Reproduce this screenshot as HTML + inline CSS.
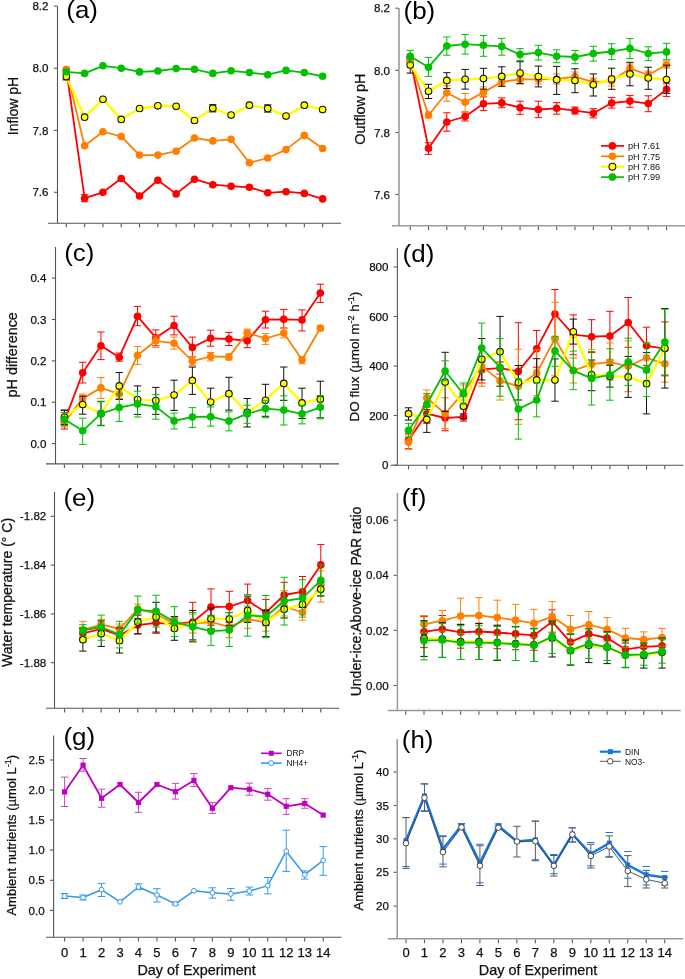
<!DOCTYPE html><html><head><meta charset="utf-8"><style>html,body{margin:0;padding:0;background:#fff;}svg{display:block;will-change:transform;}</style></head><body>
<svg width="685" height="979" viewBox="0 0 685 979" font-family='"Liberation Sans", sans-serif'>
<rect width="685" height="979" fill="#fff"/>
<g stroke="#555" stroke-width="1.1" fill="none">
<path d="M57.5 6V223.2M48 223.2H341"/>
</g>
<g stroke="#555" stroke-width="1.1" fill="none">
<path d="M53.9 6.1H56.95"/>
<path d="M53.9 68.2H56.95"/>
<path d="M53.9 130.4H56.95"/>
<path d="M53.9 192.3H56.95"/>
<path d="M66.3 223.75v3.6"/>
<path d="M84.61 223.75v3.6"/>
<path d="M102.92 223.75v3.6"/>
<path d="M121.23 223.75v3.6"/>
<path d="M139.54 223.75v3.6"/>
<path d="M157.85 223.75v3.6"/>
<path d="M176.16 223.75v3.6"/>
<path d="M194.47 223.75v3.6"/>
<path d="M212.78 223.75v3.6"/>
<path d="M231.09 223.75v3.6"/>
<path d="M249.4 223.75v3.6"/>
<path d="M267.71 223.75v3.6"/>
<path d="M286.02 223.75v3.6"/>
<path d="M304.33 223.75v3.6"/>
<path d="M322.64 223.75v3.6"/>
</g>
<g font-size="11.6" fill="#111" text-anchor="end" stroke="#111" stroke-width="0.25">
<text x="48.5" y="10.28">8.2</text>
<text x="48.5" y="72.38">8.0</text>
<text x="48.5" y="134.58">7.8</text>
<text x="48.5" y="196.48">7.6</text>
</g>
<text transform="translate(66.3,17.9) scale(1.1,1)" font-size="23.6" fill="#000">(a)</text>
<text transform="translate(18.3,106) rotate(-90)" text-anchor="middle" font-size="14" fill="#111" stroke="#111" stroke-width="0.25">Inflow pH</text>
<path d="M66.3 69.5 L84.61 198.2 L102.92 192.3 L121.23 178.5 L139.54 196 L157.85 180.3 L176.16 193.9 L194.47 179.2 L212.78 184.7 L231.09 186.2 L249.4 187.3 L267.71 192.8 L286.02 191.7 L304.33 193.4 L322.64 198.9" fill="none" stroke="#FF0000" stroke-width="1.8" stroke-linejoin="round"/>
<path d="M84.61 194.6V201.8M80.91 194.6h7.4M80.91 201.8h7.4" fill="none" stroke="#FF0000" stroke-width="1.0"/>
<g fill="#FF0000" stroke="none" stroke-width="0"><circle cx="66.3" cy="69.5" r="3.8"/><circle cx="84.61" cy="198.2" r="3.8"/><circle cx="102.92" cy="192.3" r="3.8"/><circle cx="121.23" cy="178.5" r="3.8"/><circle cx="139.54" cy="196" r="3.8"/><circle cx="157.85" cy="180.3" r="3.8"/><circle cx="176.16" cy="193.9" r="3.8"/><circle cx="194.47" cy="179.2" r="3.8"/><circle cx="212.78" cy="184.7" r="3.8"/><circle cx="231.09" cy="186.2" r="3.8"/><circle cx="249.4" cy="187.3" r="3.8"/><circle cx="267.71" cy="192.8" r="3.8"/><circle cx="286.02" cy="191.7" r="3.8"/><circle cx="304.33" cy="193.4" r="3.8"/><circle cx="322.64" cy="198.9" r="3.8"/></g>
<path d="M66.3 69.8 L84.61 145.7 L102.92 131.7 L121.23 136.5 L139.54 155.1 L157.85 155.1 L176.16 151.2 L194.47 138 L212.78 140.9 L231.09 139.3 L249.4 162.8 L267.71 158 L286.02 149.6 L304.33 135.4 L322.64 148.5" fill="none" stroke="#FF8000" stroke-width="1.8" stroke-linejoin="round"/>
<g fill="#FF8000" stroke="none" stroke-width="0"><circle cx="66.3" cy="69.8" r="3.8"/><circle cx="84.61" cy="145.7" r="3.8"/><circle cx="102.92" cy="131.7" r="3.8"/><circle cx="121.23" cy="136.5" r="3.8"/><circle cx="139.54" cy="155.1" r="3.8"/><circle cx="157.85" cy="155.1" r="3.8"/><circle cx="176.16" cy="151.2" r="3.8"/><circle cx="194.47" cy="138" r="3.8"/><circle cx="212.78" cy="140.9" r="3.8"/><circle cx="231.09" cy="139.3" r="3.8"/><circle cx="249.4" cy="162.8" r="3.8"/><circle cx="267.71" cy="158" r="3.8"/><circle cx="286.02" cy="149.6" r="3.8"/><circle cx="304.33" cy="135.4" r="3.8"/><circle cx="322.64" cy="148.5" r="3.8"/></g>
<path d="M66.3 76.6 L84.61 117.2 L102.92 99.3 L121.23 119.4 L139.54 108.5 L157.85 105.8 L176.16 106.3 L194.47 120.5 L212.78 108.2 L231.09 115.1 L249.4 105.2 L267.71 108.4 L286.02 116.1 L304.33 105.2 L322.64 109.6" fill="none" stroke="#FFFF00" stroke-width="2.4" stroke-linejoin="round"/>
<path d="M66.3 73.4V79.9M62.6 73.4h7.4M62.6 79.9h7.4M212.78 104.7V111.9M209.08 104.7h7.4M209.08 111.9h7.4M267.71 104.9V112.1M264.01 104.9h7.4M264.01 112.1h7.4" fill="none" stroke="#111" stroke-width="1.0"/>
<g fill="#FFFF00" stroke="#111" stroke-width="1.1"><circle cx="66.3" cy="76.6" r="3.3"/><circle cx="84.61" cy="117.2" r="3.3"/><circle cx="102.92" cy="99.3" r="3.3"/><circle cx="121.23" cy="119.4" r="3.3"/><circle cx="139.54" cy="108.5" r="3.3"/><circle cx="157.85" cy="105.8" r="3.3"/><circle cx="176.16" cy="106.3" r="3.3"/><circle cx="194.47" cy="120.5" r="3.3"/><circle cx="212.78" cy="108.2" r="3.3"/><circle cx="231.09" cy="115.1" r="3.3"/><circle cx="249.4" cy="105.2" r="3.3"/><circle cx="267.71" cy="108.4" r="3.3"/><circle cx="286.02" cy="116.1" r="3.3"/><circle cx="304.33" cy="105.2" r="3.3"/><circle cx="322.64" cy="109.6" r="3.3"/></g>
<path d="M66.3 71.8 L84.61 73.4 L102.92 65.8 L121.23 68.2 L139.54 71.9 L157.85 71 L176.16 68.6 L194.47 69.3 L212.78 73.4 L231.09 70.8 L249.4 72.6 L267.71 74.7 L286.02 70.4 L304.33 72.6 L322.64 76.3" fill="none" stroke="#00C000" stroke-width="1.8" stroke-linejoin="round"/>
<g fill="#00C000" stroke="none" stroke-width="0"><circle cx="66.3" cy="71.8" r="3.8"/><circle cx="84.61" cy="73.4" r="3.8"/><circle cx="102.92" cy="65.8" r="3.8"/><circle cx="121.23" cy="68.2" r="3.8"/><circle cx="139.54" cy="71.9" r="3.8"/><circle cx="157.85" cy="71" r="3.8"/><circle cx="176.16" cy="68.6" r="3.8"/><circle cx="194.47" cy="69.3" r="3.8"/><circle cx="212.78" cy="73.4" r="3.8"/><circle cx="231.09" cy="70.8" r="3.8"/><circle cx="249.4" cy="72.6" r="3.8"/><circle cx="267.71" cy="74.7" r="3.8"/><circle cx="286.02" cy="70.4" r="3.8"/><circle cx="304.33" cy="72.6" r="3.8"/><circle cx="322.64" cy="76.3" r="3.8"/></g>
<g stroke="#999" stroke-width="1.6" fill="none">
<path d="M399 8V225.7M392 225.7H685"/>
</g>
<g stroke="#555" stroke-width="1.1" fill="none">
<path d="M395.4 8.2H398.2"/>
<path d="M395.4 70.4H398.2"/>
<path d="M395.4 132.5H398.2"/>
<path d="M395.4 194.5H398.2"/>
<path d="M410.2 226.5v3.6"/>
<path d="M428.51 226.5v3.6"/>
<path d="M446.82 226.5v3.6"/>
<path d="M465.13 226.5v3.6"/>
<path d="M483.44 226.5v3.6"/>
<path d="M501.75 226.5v3.6"/>
<path d="M520.06 226.5v3.6"/>
<path d="M538.37 226.5v3.6"/>
<path d="M556.68 226.5v3.6"/>
<path d="M574.99 226.5v3.6"/>
<path d="M593.3 226.5v3.6"/>
<path d="M611.61 226.5v3.6"/>
<path d="M629.92 226.5v3.6"/>
<path d="M648.23 226.5v3.6"/>
<path d="M666.54 226.5v3.6"/>
</g>
<g font-size="11.6" fill="#111" text-anchor="end" stroke="#111" stroke-width="0.25">
<text x="390" y="12.38">8.2</text>
<text x="390" y="74.58">8.0</text>
<text x="390" y="136.68">7.8</text>
<text x="390" y="198.68">7.6</text>
</g>
<text transform="translate(403.5,18.5) scale(1.1,1)" font-size="23.6" fill="#000">(b)</text>
<text transform="translate(364.84,109.2) rotate(-90)" text-anchor="middle" font-size="14.4" fill="#111" stroke="#111" stroke-width="0.25">Outflow pH</text>
<path d="M410.2 58.5 L428.51 148.2 L446.82 122 L465.13 116.5 L483.44 103.8 L501.75 102.9 L520.06 107.7 L538.37 109.5 L556.68 108.3 L574.99 110.7 L593.3 113.2 L611.61 103 L629.92 101.1 L648.23 103.6 L666.54 89.3" fill="none" stroke="#FF0000" stroke-width="1.8" stroke-linejoin="round"/>
<path d="M410.2 55V62M406.5 55h7.4M406.5 62h7.4M428.51 142.8V154.4M424.81 142.8h7.4M424.81 154.4h7.4M446.82 112.8V131.2M443.12 112.8h7.4M443.12 131.2h7.4M465.13 112V121M461.43 112h7.4M461.43 121h7.4M483.44 96.8V110.6M479.74 96.8h7.4M479.74 110.6h7.4M501.75 97.9V107.7M498.05 97.9h7.4M498.05 107.7h7.4M520.06 101.2V114.3M516.36 101.2h7.4M516.36 114.3h7.4M538.37 101.2V117.6M534.67 101.2h7.4M534.67 117.6h7.4M556.68 102.6V114.2M552.98 102.6h7.4M552.98 114.2h7.4M574.99 107V114M571.29 107h7.4M571.29 114h7.4M593.3 108.7V117.9M589.6 108.7h7.4M589.6 117.9h7.4M611.61 97.4V108.1M607.91 97.4h7.4M607.91 108.1h7.4M629.92 95.4V107.3M626.22 95.4h7.4M626.22 107.3h7.4M648.23 95.8V111.7M644.53 95.8h7.4M644.53 111.7h7.4M666.54 83.7V96.4M662.84 83.7h7.4M662.84 96.4h7.4" fill="none" stroke="#FF0000" stroke-width="1.0"/>
<g fill="#FF0000" stroke="none" stroke-width="0"><circle cx="410.2" cy="58.5" r="3.8"/><circle cx="428.51" cy="148.2" r="3.8"/><circle cx="446.82" cy="122" r="3.8"/><circle cx="465.13" cy="116.5" r="3.8"/><circle cx="483.44" cy="103.8" r="3.8"/><circle cx="501.75" cy="102.9" r="3.8"/><circle cx="520.06" cy="107.7" r="3.8"/><circle cx="538.37" cy="109.5" r="3.8"/><circle cx="556.68" cy="108.3" r="3.8"/><circle cx="574.99" cy="110.7" r="3.8"/><circle cx="593.3" cy="113.2" r="3.8"/><circle cx="611.61" cy="103" r="3.8"/><circle cx="629.92" cy="101.1" r="3.8"/><circle cx="648.23" cy="103.6" r="3.8"/><circle cx="666.54" cy="89.3" r="3.8"/></g>
<path d="M410.2 60.7 L428.51 115 L446.82 92.8 L465.13 102.3 L483.44 92.4 L501.75 81.9 L520.06 79.3 L538.37 79.3 L556.68 79 L574.99 76.6 L593.3 82.1 L611.61 81.1 L629.92 68.4 L648.23 75 L666.54 64.7" fill="none" stroke="#FF8000" stroke-width="1.8" stroke-linejoin="round"/>
<path d="M428.51 112V118M424.81 112h7.4M424.81 118h7.4M446.82 85.8V101.2M443.12 85.8h7.4M443.12 101.2h7.4M465.13 93.5V112.1M461.43 93.5h7.4M461.43 112.1h7.4M483.44 86.9V96.8M479.74 86.9h7.4M479.74 96.8h7.4M501.75 78V86M498.05 78h7.4M498.05 86h7.4M520.06 75V84M516.36 75h7.4M516.36 84h7.4M538.37 75V84M534.67 75h7.4M534.67 84h7.4M556.68 74V84M552.98 74h7.4M552.98 84h7.4M574.99 72V81M571.29 72h7.4M571.29 81h7.4M593.3 78V86M589.6 78h7.4M589.6 86h7.4M611.61 76V86M607.91 76h7.4M607.91 86h7.4M629.92 64V73M626.22 64h7.4M626.22 73h7.4M648.23 71V79M644.53 71h7.4M644.53 79h7.4M666.54 61V68M662.84 61h7.4M662.84 68h7.4" fill="none" stroke="#FF8000" stroke-width="1.0"/>
<g fill="#FF8000" stroke="none" stroke-width="0"><circle cx="410.2" cy="60.7" r="3.8"/><circle cx="428.51" cy="115" r="3.8"/><circle cx="446.82" cy="92.8" r="3.8"/><circle cx="465.13" cy="102.3" r="3.8"/><circle cx="483.44" cy="92.4" r="3.8"/><circle cx="501.75" cy="81.9" r="3.8"/><circle cx="520.06" cy="79.3" r="3.8"/><circle cx="538.37" cy="79.3" r="3.8"/><circle cx="556.68" cy="79" r="3.8"/><circle cx="574.99" cy="76.6" r="3.8"/><circle cx="593.3" cy="82.1" r="3.8"/><circle cx="611.61" cy="81.1" r="3.8"/><circle cx="629.92" cy="68.4" r="3.8"/><circle cx="648.23" cy="75" r="3.8"/><circle cx="666.54" cy="64.7" r="3.8"/></g>
<path d="M410.2 65 L428.51 91.3 L446.82 80.4 L465.13 79.3 L483.44 78.6 L501.75 76.4 L520.06 73.1 L538.37 76.6 L556.68 79.7 L574.99 80.5 L593.3 84.8 L611.61 79 L629.92 73.9 L648.23 78 L666.54 79.5" fill="none" stroke="#FFFF00" stroke-width="2.4" stroke-linejoin="round"/>
<path d="M410.2 57.4V73.1M406.5 57.4h7.4M406.5 73.1h7.4M428.51 84.3V98.5M424.81 84.3h7.4M424.81 98.5h7.4M446.82 72.7V88.5M443.12 72.7h7.4M443.12 88.5h7.4M465.13 69.4V89.1M461.43 69.4h7.4M461.43 89.1h7.4M483.44 68.3V89.1M479.74 68.3h7.4M479.74 89.1h7.4M501.75 66.8V86.3M498.05 66.8h7.4M498.05 86.3h7.4M520.06 61.7V83.6M516.36 61.7h7.4M516.36 83.6h7.4M538.37 66.1V86.9M534.67 66.1h7.4M534.67 86.9h7.4M556.68 66.4V94.4M552.98 66.4h7.4M552.98 94.4h7.4M574.99 68.8V92.7M571.29 68.8h7.4M571.29 92.7h7.4M593.3 73.9V96M589.6 73.9h7.4M589.6 96h7.4M611.61 68.2V89.3M607.91 68.2h7.4M607.91 89.3h7.4M629.92 62.3V85.8M626.22 62.3h7.4M626.22 85.8h7.4M648.23 67.2V89.3M644.53 67.2h7.4M644.53 89.3h7.4M666.54 65.2V93.4M662.84 65.2h7.4M662.84 93.4h7.4" fill="none" stroke="#111" stroke-width="1.0"/>
<g fill="#FFFF00" stroke="#111" stroke-width="1.1"><circle cx="410.2" cy="65" r="3.3"/><circle cx="428.51" cy="91.3" r="3.3"/><circle cx="446.82" cy="80.4" r="3.3"/><circle cx="465.13" cy="79.3" r="3.3"/><circle cx="483.44" cy="78.6" r="3.3"/><circle cx="501.75" cy="76.4" r="3.3"/><circle cx="520.06" cy="73.1" r="3.3"/><circle cx="538.37" cy="76.6" r="3.3"/><circle cx="556.68" cy="79.7" r="3.3"/><circle cx="574.99" cy="80.5" r="3.3"/><circle cx="593.3" cy="84.8" r="3.3"/><circle cx="611.61" cy="79" r="3.3"/><circle cx="629.92" cy="73.9" r="3.3"/><circle cx="648.23" cy="78" r="3.3"/><circle cx="666.54" cy="79.5" r="3.3"/></g>
<path d="M410.2 56.3 L428.51 67.2 L446.82 46 L465.13 44.2 L483.44 45.3 L501.75 46.4 L520.06 54.5 L538.37 52.6 L556.68 56.2 L574.99 57 L593.3 53.5 L611.61 51.5 L629.92 48.4 L648.23 53.5 L666.54 51.9" fill="none" stroke="#00C000" stroke-width="1.8" stroke-linejoin="round"/>
<path d="M410.2 50.4V62.8M406.5 50.4h7.4M406.5 62.8h7.4M428.51 57.4V76.4M424.81 57.4h7.4M424.81 76.4h7.4M446.82 37V55.2M443.12 37h7.4M443.12 55.2h7.4M465.13 34.4V54.1M461.43 34.4h7.4M461.43 54.1h7.4M483.44 35.5V56.3M479.74 35.5h7.4M479.74 56.3h7.4M501.75 38.3V55.2M498.05 38.3h7.4M498.05 55.2h7.4M520.06 48.6V60.7M516.36 48.6h7.4M516.36 60.7h7.4M538.37 45.3V60M534.67 45.3h7.4M534.67 60h7.4M556.68 49.8V62.7M552.98 49.8h7.4M552.98 62.7h7.4M574.99 50.4V63.7M571.29 50.4h7.4M571.29 63.7h7.4M593.3 46.3V61.1M589.6 46.3h7.4M589.6 61.1h7.4M611.61 43.7V59.6M607.91 43.7h7.4M607.91 59.6h7.4M629.92 38.6V58.6M626.22 38.6h7.4M626.22 58.6h7.4M648.23 46.8V60.7M644.53 46.8h7.4M644.53 60.7h7.4M666.54 43.3V59.6M662.84 43.3h7.4M662.84 59.6h7.4" fill="none" stroke="#00C000" stroke-width="1.0"/>
<g fill="#00C000" stroke="none" stroke-width="0"><circle cx="410.2" cy="56.3" r="3.8"/><circle cx="428.51" cy="67.2" r="3.8"/><circle cx="446.82" cy="46" r="3.8"/><circle cx="465.13" cy="44.2" r="3.8"/><circle cx="483.44" cy="45.3" r="3.8"/><circle cx="501.75" cy="46.4" r="3.8"/><circle cx="520.06" cy="54.5" r="3.8"/><circle cx="538.37" cy="52.6" r="3.8"/><circle cx="556.68" cy="56.2" r="3.8"/><circle cx="574.99" cy="57" r="3.8"/><circle cx="593.3" cy="53.5" r="3.8"/><circle cx="611.61" cy="51.5" r="3.8"/><circle cx="629.92" cy="48.4" r="3.8"/><circle cx="648.23" cy="53.5" r="3.8"/><circle cx="666.54" cy="51.9" r="3.8"/></g>
<g stroke="#555" stroke-width="1.1" fill="none">
<path d="M55.5 247V463.9M46 463.9H339"/>
</g>
<g stroke="#555" stroke-width="1.1" fill="none">
<path d="M51.9 278.1H54.95"/>
<path d="M51.9 319.5H54.95"/>
<path d="M51.9 360.9H54.95"/>
<path d="M51.9 402.2H54.95"/>
<path d="M51.9 443.6H54.95"/>
<path d="M64.4 464.45v3.6"/>
<path d="M82.68 464.45v3.6"/>
<path d="M100.96 464.45v3.6"/>
<path d="M119.24 464.45v3.6"/>
<path d="M137.52 464.45v3.6"/>
<path d="M155.8 464.45v3.6"/>
<path d="M174.08 464.45v3.6"/>
<path d="M192.36 464.45v3.6"/>
<path d="M210.64 464.45v3.6"/>
<path d="M228.92 464.45v3.6"/>
<path d="M247.2 464.45v3.6"/>
<path d="M265.48 464.45v3.6"/>
<path d="M283.76 464.45v3.6"/>
<path d="M302.04 464.45v3.6"/>
<path d="M320.32 464.45v3.6"/>
</g>
<g font-size="11.6" fill="#111" text-anchor="end" stroke="#111" stroke-width="0.25">
<text x="46.5" y="282.28">0.4</text>
<text x="46.5" y="323.68">0.3</text>
<text x="46.5" y="365.08">0.2</text>
<text x="46.5" y="406.38">0.1</text>
<text x="46.5" y="447.78">0.0</text>
</g>
<text transform="translate(64.2,261.4) scale(1.1,1)" font-size="23.6" fill="#000">(c)</text>
<text transform="translate(16.94,354.8) rotate(-90)" text-anchor="middle" font-size="14.4" fill="#111" stroke="#111" stroke-width="0.25">pH difference</text>
<path d="M64.4 421.4 L82.68 372.8 L100.96 345.8 L119.24 357.2 L137.52 316.3 L155.8 337.7 L174.08 325.5 L192.36 347.4 L210.64 338.3 L228.92 339 L247.2 340.7 L265.48 319.7 L283.76 319.3 L302.04 319.9 L320.32 293" fill="none" stroke="#FF0000" stroke-width="1.8" stroke-linejoin="round"/>
<path d="M64.4 410.4V429M60.7 410.4h7.4M60.7 429h7.4M82.68 362.3V383M78.98 362.3h7.4M78.98 383h7.4M100.96 332V359.6M97.26 332h7.4M97.26 359.6h7.4M119.24 353V361.2M115.54 353h7.4M115.54 361.2h7.4M137.52 306.4V325.7M133.82 306.4h7.4M133.82 325.7h7.4M155.8 329.9V345.8M152.1 329.9h7.4M152.1 345.8h7.4M174.08 316.3V334.9M170.38 316.3h7.4M170.38 334.9h7.4M192.36 337.1V356.8M188.66 337.1h7.4M188.66 356.8h7.4M210.64 330.2V346.2M206.94 330.2h7.4M206.94 346.2h7.4M228.92 332.4V345.5M225.22 332.4h7.4M225.22 345.5h7.4M247.2 333.5V347.7M243.5 333.5h7.4M243.5 347.7h7.4M265.48 311.2V328M261.78 311.2h7.4M261.78 328h7.4M283.76 309.4V328M280.06 309.4h7.4M280.06 328h7.4M302.04 309.9V330.9M298.34 309.9h7.4M298.34 330.9h7.4M320.32 284.2V302.4M316.62 284.2h7.4M316.62 302.4h7.4" fill="none" stroke="#FF0000" stroke-width="1.0"/>
<g fill="#FF0000" stroke="none" stroke-width="0"><circle cx="64.4" cy="421.4" r="3.8"/><circle cx="82.68" cy="372.8" r="3.8"/><circle cx="100.96" cy="345.8" r="3.8"/><circle cx="119.24" cy="357.2" r="3.8"/><circle cx="137.52" cy="316.3" r="3.8"/><circle cx="155.8" cy="337.7" r="3.8"/><circle cx="174.08" cy="325.5" r="3.8"/><circle cx="192.36" cy="347.4" r="3.8"/><circle cx="210.64" cy="338.3" r="3.8"/><circle cx="228.92" cy="339" r="3.8"/><circle cx="247.2" cy="340.7" r="3.8"/><circle cx="265.48" cy="319.7" r="3.8"/><circle cx="283.76" cy="319.3" r="3.8"/><circle cx="302.04" cy="319.9" r="3.8"/><circle cx="320.32" cy="293" r="3.8"/></g>
<path d="M64.4 422.5 L82.68 398.4 L100.96 387.9 L119.24 394 L137.52 355.3 L155.8 340.8 L174.08 343.2 L192.36 361.2 L210.64 356.5 L228.92 356.9 L247.2 332.8 L265.48 338.5 L283.76 333.1 L302.04 359.8 L320.32 328" fill="none" stroke="#FF8000" stroke-width="1.8" stroke-linejoin="round"/>
<path d="M64.4 418V427M60.7 418h7.4M60.7 427h7.4M82.68 394V402.8M78.98 394h7.4M78.98 402.8h7.4M100.96 377.6V398.4M97.26 377.6h7.4M97.26 398.4h7.4M119.24 389.6V398.4M115.54 389.6h7.4M115.54 398.4h7.4M137.52 346.5V364.4M133.82 346.5h7.4M133.82 364.4h7.4M155.8 336V347.4M152.1 336h7.4M152.1 347.4h7.4M174.08 337.1V349.1M170.38 337.1h7.4M170.38 349.1h7.4M192.36 356.8V365.5M188.66 356.8h7.4M188.66 365.5h7.4M210.64 352.5V360.9M206.94 352.5h7.4M206.94 360.9h7.4M228.92 354V360M225.22 354h7.4M225.22 360h7.4M247.2 329.1V336.8M243.5 329.1h7.4M243.5 336.8h7.4M265.48 333.5V344.4M261.78 333.5h7.4M261.78 344.4h7.4M283.76 328V337.9M280.06 328h7.4M280.06 337.9h7.4M302.04 356.5V363.7M298.34 356.5h7.4M298.34 363.7h7.4M320.32 325.8V330.9M316.62 325.8h7.4M316.62 330.9h7.4" fill="none" stroke="#FF8000" stroke-width="1.0"/>
<g fill="#FF8000" stroke="none" stroke-width="0"><circle cx="64.4" cy="422.5" r="3.8"/><circle cx="82.68" cy="398.4" r="3.8"/><circle cx="100.96" cy="387.9" r="3.8"/><circle cx="119.24" cy="394" r="3.8"/><circle cx="137.52" cy="355.3" r="3.8"/><circle cx="155.8" cy="340.8" r="3.8"/><circle cx="174.08" cy="343.2" r="3.8"/><circle cx="192.36" cy="361.2" r="3.8"/><circle cx="210.64" cy="356.5" r="3.8"/><circle cx="228.92" cy="356.9" r="3.8"/><circle cx="247.2" cy="332.8" r="3.8"/><circle cx="265.48" cy="338.5" r="3.8"/><circle cx="283.76" cy="333.1" r="3.8"/><circle cx="302.04" cy="359.8" r="3.8"/><circle cx="320.32" cy="328" r="3.8"/></g>
<path d="M64.4 417 L82.68 404.5 L100.96 413.7 L119.24 385.9 L137.52 399.5 L155.8 400.6 L174.08 395.1 L192.36 380.4 L210.64 402 L228.92 393.7 L247.2 412.3 L265.48 400.3 L283.76 383.4 L302.04 402.9 L320.32 399.2" fill="none" stroke="#FFFF00" stroke-width="2.4" stroke-linejoin="round"/>
<path d="M64.4 410V424.7M60.7 410h7.4M60.7 424.7h7.4M82.68 396.2V414.2M78.98 396.2h7.4M78.98 414.2h7.4M100.96 401.7V425.3M97.26 401.7h7.4M97.26 425.3h7.4M119.24 372.5V399.5M115.54 372.5h7.4M115.54 399.5h7.4M137.52 385.9V414.4M133.82 385.9h7.4M133.82 414.4h7.4M155.8 387.4V414.4M152.1 387.4h7.4M152.1 414.4h7.4M174.08 380.2V410.4M170.38 380.2h7.4M170.38 410.4h7.4M192.36 367.1V394.4M188.66 367.1h7.4M188.66 394.4h7.4M210.64 388.2V416.3M206.94 388.2h7.4M206.94 416.3h7.4M228.92 377.3V410.1M225.22 377.3h7.4M225.22 410.1h7.4M247.2 398.5V427M243.5 398.5h7.4M243.5 427h7.4M265.48 384.3V416.3M261.78 384.3h7.4M261.78 416.3h7.4M283.76 367V400.3M280.06 367h7.4M280.06 400.3h7.4M302.04 388.2V418.5M298.34 388.2h7.4M298.34 418.5h7.4M320.32 381.2V417.8M316.62 381.2h7.4M316.62 417.8h7.4" fill="none" stroke="#111" stroke-width="1.0"/>
<g fill="#FFFF00" stroke="#111" stroke-width="1.1"><circle cx="64.4" cy="417" r="3.3"/><circle cx="82.68" cy="404.5" r="3.3"/><circle cx="100.96" cy="413.7" r="3.3"/><circle cx="119.24" cy="385.9" r="3.3"/><circle cx="137.52" cy="399.5" r="3.3"/><circle cx="155.8" cy="400.6" r="3.3"/><circle cx="174.08" cy="395.1" r="3.3"/><circle cx="192.36" cy="380.4" r="3.3"/><circle cx="210.64" cy="402" r="3.3"/><circle cx="228.92" cy="393.7" r="3.3"/><circle cx="247.2" cy="412.3" r="3.3"/><circle cx="265.48" cy="400.3" r="3.3"/><circle cx="283.76" cy="383.4" r="3.3"/><circle cx="302.04" cy="402.9" r="3.3"/><circle cx="320.32" cy="399.2" r="3.3"/></g>
<path d="M64.4 419.2 L82.68 430.8 L100.96 413.7 L119.24 407.6 L137.52 403.9 L155.8 406.7 L174.08 420.9 L192.36 417 L210.64 416.7 L228.92 421.1 L247.2 413.9 L265.48 408.6 L283.76 410.1 L302.04 413.9 L320.32 407.3" fill="none" stroke="#00C000" stroke-width="1.8" stroke-linejoin="round"/>
<path d="M64.4 412.6V425.8M60.7 412.6h7.4M60.7 425.8h7.4M82.68 418.1V444.4M78.98 418.1h7.4M78.98 444.4h7.4M100.96 401.2V425.8M97.26 401.2h7.4M97.26 425.8h7.4M119.24 394V421.4M115.54 394h7.4M115.54 421.4h7.4M137.52 391.2V417M133.82 391.2h7.4M133.82 417h7.4M155.8 394.7V419.2M152.1 394.7h7.4M152.1 419.2h7.4M174.08 413.1V429M170.38 413.1h7.4M170.38 429h7.4M192.36 407.6V427.3M188.66 407.6h7.4M188.66 427.3h7.4M210.64 406.9V426.1M206.94 406.9h7.4M206.94 426.1h7.4M228.92 411.9V430.9M225.22 411.9h7.4M225.22 430.9h7.4M247.2 405.3V423.3M243.5 405.3h7.4M243.5 423.3h7.4M265.48 400.3V417.8M261.78 400.3h7.4M261.78 417.8h7.4M283.76 395.9V425M280.06 395.9h7.4M280.06 425h7.4M302.04 405.3V423.9M298.34 405.3h7.4M298.34 423.9h7.4M320.32 395.5V418.9M316.62 395.5h7.4M316.62 418.9h7.4" fill="none" stroke="#00C000" stroke-width="1.0"/>
<g fill="#00C000" stroke="none" stroke-width="0"><circle cx="64.4" cy="419.2" r="3.8"/><circle cx="82.68" cy="430.8" r="3.8"/><circle cx="100.96" cy="413.7" r="3.8"/><circle cx="119.24" cy="407.6" r="3.8"/><circle cx="137.52" cy="403.9" r="3.8"/><circle cx="155.8" cy="406.7" r="3.8"/><circle cx="174.08" cy="420.9" r="3.8"/><circle cx="192.36" cy="417" r="3.8"/><circle cx="210.64" cy="416.7" r="3.8"/><circle cx="228.92" cy="421.1" r="3.8"/><circle cx="247.2" cy="413.9" r="3.8"/><circle cx="265.48" cy="408.6" r="3.8"/><circle cx="283.76" cy="410.1" r="3.8"/><circle cx="302.04" cy="413.9" r="3.8"/><circle cx="320.32" cy="407.3" r="3.8"/></g>
<g stroke="#555" stroke-width="1.1" fill="none">
<path d="M397.4 248V465.2M390.4 465.2H683.4"/>
</g>
<g stroke="#555" stroke-width="1.1" fill="none">
<path d="M393.8 267H396.85"/>
<path d="M393.8 316.5H396.85"/>
<path d="M393.8 366H396.85"/>
<path d="M393.8 415.5H396.85"/>
<path d="M393.8 465.2H396.85"/>
<path d="M408.5 465.75v3.6"/>
<path d="M426.81 465.75v3.6"/>
<path d="M445.12 465.75v3.6"/>
<path d="M463.43 465.75v3.6"/>
<path d="M481.74 465.75v3.6"/>
<path d="M500.05 465.75v3.6"/>
<path d="M518.36 465.75v3.6"/>
<path d="M536.67 465.75v3.6"/>
<path d="M554.98 465.75v3.6"/>
<path d="M573.29 465.75v3.6"/>
<path d="M591.6 465.75v3.6"/>
<path d="M609.91 465.75v3.6"/>
<path d="M628.22 465.75v3.6"/>
<path d="M646.53 465.75v3.6"/>
<path d="M664.84 465.75v3.6"/>
</g>
<g font-size="11.6" fill="#111" text-anchor="end" stroke="#111" stroke-width="0.25">
<text x="388.5" y="271.18">800</text>
<text x="388.5" y="320.68">600</text>
<text x="388.5" y="370.18">400</text>
<text x="388.5" y="419.68">200</text>
<text x="388.5" y="469.38">0</text>
</g>
<text transform="translate(402.6,262.2) scale(1.1,1)" font-size="23.6" fill="#000">(d)</text>
<text transform="translate(359.33,356.6) rotate(-90)" text-anchor="middle" font-size="13.5" fill="#111" stroke="#111" stroke-width="0.25">DO flux (µmol m<tspan baseline-shift="super" font-size="9">-2</tspan> h<tspan baseline-shift="super" font-size="9">-1</tspan>)</text>
<path d="M408.5 440.2 L426.81 413.7 L445.12 418 L463.43 416.9 L481.74 369.3 L500.05 368.2 L518.36 371.4 L536.67 348.7 L554.98 314 L573.29 334.6 L591.6 336.7 L609.91 336 L628.22 322.5 L646.53 345.8 L664.84 348.7" fill="none" stroke="#FF0000" stroke-width="1.8" stroke-linejoin="round"/>
<path d="M408.5 433.8V448.7M404.8 433.8h7.4M404.8 448.7h7.4M426.81 409.5V423.3M423.11 409.5h7.4M423.11 423.3h7.4M445.12 410.6V430.7M441.42 410.6h7.4M441.42 430.7h7.4M463.43 413.7V421.1M459.73 413.7h7.4M459.73 421.1h7.4M481.74 361.9V383M478.04 361.9h7.4M478.04 383h7.4M500.05 362V374M496.35 362h7.4M496.35 374h7.4M518.36 322.7V419.7M514.66 322.7h7.4M514.66 419.7h7.4M536.67 330.5V367.2M532.97 330.5h7.4M532.97 367.2h7.4M554.98 289.5V338.2M551.28 289.5h7.4M551.28 338.2h7.4M573.29 314.9V354.7M569.59 314.9h7.4M569.59 354.7h7.4M591.6 319.7V352.6M587.9 319.7h7.4M587.9 352.6h7.4M609.91 311.3V360M606.21 311.3h7.4M606.21 360h7.4M628.22 297.5V347.3M624.52 297.5h7.4M624.52 347.3h7.4M646.53 327.2V365.3M642.83 327.2h7.4M642.83 365.3h7.4M664.84 321.9V375.8M661.14 321.9h7.4M661.14 375.8h7.4" fill="none" stroke="#FF0000" stroke-width="1.0"/>
<g fill="#FF0000" stroke="none" stroke-width="0"><circle cx="408.5" cy="440.2" r="3.8"/><circle cx="426.81" cy="413.7" r="3.8"/><circle cx="445.12" cy="418" r="3.8"/><circle cx="463.43" cy="416.9" r="3.8"/><circle cx="481.74" cy="369.3" r="3.8"/><circle cx="500.05" cy="368.2" r="3.8"/><circle cx="518.36" cy="371.4" r="3.8"/><circle cx="536.67" cy="348.7" r="3.8"/><circle cx="554.98" cy="314" r="3.8"/><circle cx="573.29" cy="334.6" r="3.8"/><circle cx="591.6" cy="336.7" r="3.8"/><circle cx="609.91" cy="336" r="3.8"/><circle cx="628.22" cy="322.5" r="3.8"/><circle cx="646.53" cy="345.8" r="3.8"/><circle cx="664.84" cy="348.7" r="3.8"/></g>
<path d="M408.5 442.3 L426.81 397.8 L445.12 413.7 L463.43 392.6 L481.74 366.1 L500.05 380.9 L518.36 386.2 L536.67 372.9 L554.98 338.8 L573.29 370.6 L591.6 364.2 L609.91 362.1 L628.22 366.3 L646.53 357.8 L664.84 363.8" fill="none" stroke="#FF8000" stroke-width="1.8" stroke-linejoin="round"/>
<path d="M408.5 434.9V449.3M404.8 434.9h7.4M404.8 449.3h7.4M426.81 390V407.4M423.11 390h7.4M423.11 407.4h7.4M445.12 397.8V428.5M441.42 397.8h7.4M441.42 428.5h7.4M463.43 385V400M459.73 385h7.4M459.73 400h7.4M481.74 356.6V386.2M478.04 356.6h7.4M478.04 386.2h7.4M500.05 361.9V400M496.35 361.9h7.4M496.35 400h7.4M518.36 349.2V424.3M514.66 349.2h7.4M514.66 424.3h7.4M536.67 349.8V395.7M532.97 349.8h7.4M532.97 395.7h7.4M554.98 302.4V375.8M551.28 302.4h7.4M551.28 375.8h7.4M573.29 358V383M569.59 358h7.4M569.59 383h7.4M591.6 349.4V380.1M587.9 349.4h7.4M587.9 380.1h7.4M609.91 343V380.1M606.21 343h7.4M606.21 380.1h7.4M628.22 340.9V391.7M624.52 340.9h7.4M624.52 391.7h7.4M646.53 343V372.7M642.83 343h7.4M642.83 372.7h7.4M664.84 345.1V382.2M661.14 345.1h7.4M661.14 382.2h7.4" fill="none" stroke="#FF8000" stroke-width="1.0"/>
<g fill="#FF8000" stroke="none" stroke-width="0"><circle cx="408.5" cy="442.3" r="3.8"/><circle cx="426.81" cy="397.8" r="3.8"/><circle cx="445.12" cy="413.7" r="3.8"/><circle cx="463.43" cy="392.6" r="3.8"/><circle cx="481.74" cy="366.1" r="3.8"/><circle cx="500.05" cy="380.9" r="3.8"/><circle cx="518.36" cy="386.2" r="3.8"/><circle cx="536.67" cy="372.9" r="3.8"/><circle cx="554.98" cy="338.8" r="3.8"/><circle cx="573.29" cy="370.6" r="3.8"/><circle cx="591.6" cy="364.2" r="3.8"/><circle cx="609.91" cy="362.1" r="3.8"/><circle cx="628.22" cy="366.3" r="3.8"/><circle cx="646.53" cy="357.8" r="3.8"/><circle cx="664.84" cy="363.8" r="3.8"/></g>
<path d="M408.5 413.7 L426.81 419.4 L445.12 382 L463.43 406.3 L481.74 359.3 L500.05 351.7 L518.36 382.6 L536.67 379.9 L554.98 380.1 L573.29 331.8 L591.6 374.8 L609.91 376.3 L628.22 376.9 L646.53 383.7 L664.84 348.3" fill="none" stroke="#FFFF00" stroke-width="2.4" stroke-linejoin="round"/>
<path d="M408.5 407.8V420.1M404.8 407.8h7.4M404.8 420.1h7.4M426.81 406.3V432.4M423.11 406.3h7.4M423.11 432.4h7.4M445.12 352.3V411.6M441.42 352.3h7.4M441.42 411.6h7.4M463.43 394V418.6M459.73 394h7.4M459.73 418.6h7.4M481.74 338.6V379.9M478.04 338.6h7.4M478.04 379.9h7.4M500.05 316.4V386.2M496.35 316.4h7.4M496.35 386.2h7.4M518.36 365.5V400M514.66 365.5h7.4M514.66 400h7.4M536.67 358.7V401M532.97 358.7h7.4M532.97 401h7.4M554.98 358.9V401.2M551.28 358.9h7.4M551.28 401.2h7.4M573.29 319.1V344.1M569.59 319.1h7.4M569.59 344.1h7.4M591.6 360V390.7M587.9 360h7.4M587.9 390.7h7.4M609.91 365.3V387.1M606.21 365.3h7.4M606.21 387.1h7.4M628.22 356.4V397.4M624.52 356.4h7.4M624.52 397.4h7.4M646.53 352.6V413.9M642.83 352.6h7.4M642.83 413.9h7.4M664.84 308.5V388.1M661.14 308.5h7.4M661.14 388.1h7.4" fill="none" stroke="#111" stroke-width="1.0"/>
<g fill="#FFFF00" stroke="#111" stroke-width="1.1"><circle cx="408.5" cy="413.7" r="3.3"/><circle cx="426.81" cy="419.4" r="3.3"/><circle cx="445.12" cy="382" r="3.3"/><circle cx="463.43" cy="406.3" r="3.3"/><circle cx="481.74" cy="359.3" r="3.3"/><circle cx="500.05" cy="351.7" r="3.3"/><circle cx="518.36" cy="382.6" r="3.3"/><circle cx="536.67" cy="379.9" r="3.3"/><circle cx="554.98" cy="380.1" r="3.3"/><circle cx="573.29" cy="331.8" r="3.3"/><circle cx="591.6" cy="374.8" r="3.3"/><circle cx="609.91" cy="376.3" r="3.3"/><circle cx="628.22" cy="376.9" r="3.3"/><circle cx="646.53" cy="383.7" r="3.3"/><circle cx="664.84" cy="348.3" r="3.3"/></g>
<path d="M408.5 430.2 L426.81 404.2 L445.12 371 L463.43 394 L481.74 348.1 L500.05 367.2 L518.36 409.1 L536.67 400 L554.98 350.9 L573.29 370.6 L591.6 378.4 L609.91 374.8 L628.22 362.1 L646.53 369.9 L664.84 342" fill="none" stroke="#00C000" stroke-width="1.8" stroke-linejoin="round"/>
<path d="M408.5 423.3V437M404.8 423.3h7.4M404.8 437h7.4M426.81 393.6V414.8M423.11 393.6h7.4M423.11 414.8h7.4M445.12 360.8V380.9M441.42 360.8h7.4M441.42 380.9h7.4M463.43 383V404.2M459.73 383h7.4M459.73 404.2h7.4M481.74 323.1V372.4M478.04 323.1h7.4M478.04 372.4h7.4M500.05 338.6V396.2M496.35 338.6h7.4M496.35 396.2h7.4M518.36 378.8V439.1M514.66 378.8h7.4M514.66 439.1h7.4M536.67 383V416.9M532.97 383h7.4M532.97 416.9h7.4M554.98 336.7V366.3M551.28 336.7h7.4M551.28 366.3h7.4M573.29 351.1V389.6M569.59 351.1h7.4M569.59 389.6h7.4M591.6 351.5V405M587.9 351.5h7.4M587.9 405h7.4M609.91 348.7V400.2M606.21 348.7h7.4M606.21 400.2h7.4M628.22 338.2V385.4M624.52 338.2h7.4M624.52 385.4h7.4M646.53 343V396.4M642.83 343h7.4M642.83 396.4h7.4M664.84 309.2V374.8M661.14 309.2h7.4M661.14 374.8h7.4" fill="none" stroke="#00C000" stroke-width="1.0"/>
<g fill="#00C000" stroke="none" stroke-width="0"><circle cx="408.5" cy="430.2" r="3.8"/><circle cx="426.81" cy="404.2" r="3.8"/><circle cx="445.12" cy="371" r="3.8"/><circle cx="463.43" cy="394" r="3.8"/><circle cx="481.74" cy="348.1" r="3.8"/><circle cx="500.05" cy="367.2" r="3.8"/><circle cx="518.36" cy="409.1" r="3.8"/><circle cx="536.67" cy="400" r="3.8"/><circle cx="554.98" cy="350.9" r="3.8"/><circle cx="573.29" cy="370.6" r="3.8"/><circle cx="591.6" cy="378.4" r="3.8"/><circle cx="609.91" cy="374.8" r="3.8"/><circle cx="628.22" cy="362.1" r="3.8"/><circle cx="646.53" cy="369.9" r="3.8"/><circle cx="664.84" cy="342" r="3.8"/></g>
<g stroke="#555" stroke-width="1.1" fill="none">
<path d="M54.5 492V708.3M46 708.3H339"/>
</g>
<g stroke="#555" stroke-width="1.1" fill="none">
<path d="M50.9 516.3H53.95"/>
<path d="M50.9 565.1H53.95"/>
<path d="M50.9 613.9H53.95"/>
<path d="M50.9 662.7H53.95"/>
<path d="M64.6 708.85v3.6"/>
<path d="M82.9 708.85v3.6"/>
<path d="M101.2 708.85v3.6"/>
<path d="M119.5 708.85v3.6"/>
<path d="M137.8 708.85v3.6"/>
<path d="M156.1 708.85v3.6"/>
<path d="M174.4 708.85v3.6"/>
<path d="M192.7 708.85v3.6"/>
<path d="M211 708.85v3.6"/>
<path d="M229.3 708.85v3.6"/>
<path d="M247.6 708.85v3.6"/>
<path d="M265.9 708.85v3.6"/>
<path d="M284.2 708.85v3.6"/>
<path d="M302.5 708.85v3.6"/>
<path d="M320.8 708.85v3.6"/>
</g>
<g font-size="11.6" fill="#111" text-anchor="end" stroke="#111" stroke-width="0.25">
<text x="46.3" y="520.48">-1.82</text>
<text x="46.3" y="569.28">-1.84</text>
<text x="46.3" y="618.08">-1.86</text>
<text x="46.3" y="666.88">-1.88</text>
</g>
<text transform="translate(63.4,505.7) scale(1.1,1)" font-size="23.6" fill="#000">(e)</text>
<text transform="translate(12.4,592.4) rotate(-90)" text-anchor="middle" font-size="14" fill="#111" stroke="#111" stroke-width="0.25">Water temperature (° C)</text>
<path d="M82.9 633.3 L101.2 628.9 L119.5 635.5 L137.8 625.1 L156.1 622.8 L174.4 624.2 L192.7 622 L211 607.1 L229.3 606.6 L247.6 600.5 L265.9 612.6 L284.2 595 L302.5 591.7 L320.8 564.9" fill="none" stroke="#FF0000" stroke-width="1.8" stroke-linejoin="round"/>
<path d="M82.9 628V638M79.2 628h7.4M79.2 638h7.4M101.2 624V634M97.5 624h7.4M97.5 634h7.4M119.5 630V641M115.8 630h7.4M115.8 641h7.4M137.8 618.5V633.7M134.1 618.5h7.4M134.1 633.7h7.4M156.1 612.8V633.3M152.4 612.8h7.4M152.4 633.3h7.4M174.4 618V630M170.7 618h7.4M170.7 630h7.4M192.7 602.3V641.5M189 602.3h7.4M189 641.5h7.4M211 588.9V625.7M207.3 588.9h7.4M207.3 625.7h7.4M229.3 591.3V622.4M225.6 591.3h7.4M225.6 622.4h7.4M247.6 584.1V616.9M243.9 584.1h7.4M243.9 616.9h7.4M265.9 599.4V625.7M262.2 599.4h7.4M262.2 625.7h7.4M284.2 582.3V608.2M280.5 582.3h7.4M280.5 608.2h7.4M302.5 576.5V607.1M298.8 576.5h7.4M298.8 607.1h7.4M320.8 544.6V585M317.1 544.6h7.4M317.1 585h7.4" fill="none" stroke="#FF0000" stroke-width="1.0"/>
<g fill="#FF0000" stroke="none" stroke-width="0"><circle cx="82.9" cy="633.3" r="3.8"/><circle cx="101.2" cy="628.9" r="3.8"/><circle cx="119.5" cy="635.5" r="3.8"/><circle cx="137.8" cy="625.1" r="3.8"/><circle cx="156.1" cy="622.8" r="3.8"/><circle cx="174.4" cy="624.2" r="3.8"/><circle cx="192.7" cy="622" r="3.8"/><circle cx="211" cy="607.1" r="3.8"/><circle cx="229.3" cy="606.6" r="3.8"/><circle cx="247.6" cy="600.5" r="3.8"/><circle cx="265.9" cy="612.6" r="3.8"/><circle cx="284.2" cy="595" r="3.8"/><circle cx="302.5" cy="591.7" r="3.8"/><circle cx="320.8" cy="564.9" r="3.8"/></g>
<path d="M82.9 629.9 L101.2 624.5 L119.5 628.9 L137.8 609 L156.1 613.7 L174.4 624.2 L192.7 623.5 L211 622 L229.3 626.8 L247.6 619.1 L265.9 622.4 L284.2 606.5 L302.5 612.5 L320.8 584.6" fill="none" stroke="#FF8000" stroke-width="1.8" stroke-linejoin="round"/>
<path d="M82.9 621.3V637.4M79.2 621.3h7.4M79.2 637.4h7.4M101.2 619.4V629.9M97.5 619.4h7.4M97.5 629.9h7.4M119.5 624V634M115.8 624h7.4M115.8 634h7.4M137.8 604.2V613.7M134.1 604.2h7.4M134.1 613.7h7.4M156.1 609V618M152.4 609h7.4M152.4 618h7.4M174.4 618V630M170.7 618h7.4M170.7 630h7.4M192.7 614V633M189 614h7.4M189 633h7.4M211 615V629M207.3 615h7.4M207.3 629h7.4M229.3 616V637.7M225.6 616h7.4M225.6 637.7h7.4M247.6 606V628.3M243.9 606h7.4M243.9 628.3h7.4M265.9 615.8V631.2M262.2 615.8h7.4M262.2 631.2h7.4M284.2 590.7V616M280.5 590.7h7.4M280.5 616h7.4M302.5 604.3V620.2M298.8 604.3h7.4M298.8 620.2h7.4M320.8 570.9V602.1M317.1 570.9h7.4M317.1 602.1h7.4" fill="none" stroke="#FF8000" stroke-width="1.0"/>
<g fill="#FF8000" stroke="none" stroke-width="0"><circle cx="82.9" cy="629.9" r="3.8"/><circle cx="101.2" cy="624.5" r="3.8"/><circle cx="119.5" cy="628.9" r="3.8"/><circle cx="137.8" cy="609" r="3.8"/><circle cx="156.1" cy="613.7" r="3.8"/><circle cx="174.4" cy="624.2" r="3.8"/><circle cx="192.7" cy="623.5" r="3.8"/><circle cx="211" cy="622" r="3.8"/><circle cx="229.3" cy="626.8" r="3.8"/><circle cx="247.6" cy="619.1" r="3.8"/><circle cx="265.9" cy="622.4" r="3.8"/><circle cx="284.2" cy="606.5" r="3.8"/><circle cx="302.5" cy="612.5" r="3.8"/><circle cx="320.8" cy="584.6" r="3.8"/></g>
<path d="M82.9 639.7 L101.2 633.7 L119.5 640.7 L137.8 621.9 L156.1 617.1 L174.4 628.5 L192.7 623.5 L211 618.7 L229.3 619.1 L247.6 610.4 L265.9 622.4 L284.2 609.2 L302.5 604.4 L320.8 589.2" fill="none" stroke="#FFFF00" stroke-width="2.4" stroke-linejoin="round"/>
<path d="M82.9 628V651.1M79.2 628h7.4M79.2 651.1h7.4M101.2 620.9V646.4M97.5 620.9h7.4M97.5 646.4h7.4M119.5 628V653M115.8 628h7.4M115.8 653h7.4M137.8 615.1V634M134.1 615.1h7.4M134.1 634h7.4M156.1 602.3V632.1M152.4 602.3h7.4M152.4 632.1h7.4M174.4 616.6V640.3M170.7 616.6h7.4M170.7 640.3h7.4M192.7 610.4V639.9M189 610.4h7.4M189 639.9h7.4M211 608V629M207.3 608h7.4M207.3 629h7.4M229.3 612.6V625.7M225.6 612.6h7.4M225.6 625.7h7.4M247.6 596.1V622.4M243.9 596.1h7.4M243.9 622.4h7.4M265.9 610.4V636.6M262.2 610.4h7.4M262.2 636.6h7.4M284.2 600V618M280.5 600h7.4M280.5 618h7.4M302.5 596V607.3M298.8 596h7.4M298.8 607.3h7.4M320.8 582V596.1M317.1 582h7.4M317.1 596.1h7.4" fill="none" stroke="#111" stroke-width="1.0"/>
<g fill="#FFFF00" stroke="#111" stroke-width="1.1"><circle cx="82.9" cy="639.7" r="3.3"/><circle cx="101.2" cy="633.7" r="3.3"/><circle cx="119.5" cy="640.7" r="3.3"/><circle cx="137.8" cy="621.9" r="3.3"/><circle cx="156.1" cy="617.1" r="3.3"/><circle cx="174.4" cy="628.5" r="3.3"/><circle cx="192.7" cy="623.5" r="3.3"/><circle cx="211" cy="618.7" r="3.3"/><circle cx="229.3" cy="619.1" r="3.3"/><circle cx="247.6" cy="610.4" r="3.3"/><circle cx="265.9" cy="622.4" r="3.3"/><circle cx="284.2" cy="609.2" r="3.3"/><circle cx="302.5" cy="604.4" r="3.3"/><circle cx="320.8" cy="589.2" r="3.3"/></g>
<path d="M82.9 630.4 L101.2 627 L119.5 634.6 L137.8 609.9 L156.1 611.3 L174.4 621.9 L192.7 626.8 L211 631.2 L229.3 630.1 L247.6 615.4 L265.9 616.5 L284.2 601 L302.5 598.1 L320.8 580.4" fill="none" stroke="#00C000" stroke-width="1.8" stroke-linejoin="round"/>
<path d="M82.9 624.7V635.9M79.2 624.7h7.4M79.2 635.9h7.4M101.2 615.1V640.3M97.5 615.1h7.4M97.5 640.3h7.4M119.5 621.3V647.9M115.8 621.3h7.4M115.8 647.9h7.4M137.8 596.1V623.2M134.1 596.1h7.4M134.1 623.2h7.4M156.1 595.3V627M152.4 595.3h7.4M152.4 627h7.4M174.4 606.7V636.5M170.7 606.7h7.4M170.7 636.5h7.4M192.7 612.6V642.1M189 612.6h7.4M189 642.1h7.4M211 615.8V645.4M207.3 615.8h7.4M207.3 645.4h7.4M229.3 612.6V646.5M225.6 612.6h7.4M225.6 646.5h7.4M247.6 594.6V636.2M243.9 594.6h7.4M243.9 636.2h7.4M265.9 595.5V637.7M262.2 595.5h7.4M262.2 637.7h7.4M284.2 577.3V625M280.5 577.3h7.4M280.5 625h7.4M302.5 579.7V617.1M298.8 579.7h7.4M298.8 617.1h7.4M320.8 564.9V595.5M317.1 564.9h7.4M317.1 595.5h7.4" fill="none" stroke="#00C000" stroke-width="1.0"/>
<g fill="#00C000" stroke="none" stroke-width="0"><circle cx="82.9" cy="630.4" r="3.8"/><circle cx="101.2" cy="627" r="3.8"/><circle cx="119.5" cy="634.6" r="3.8"/><circle cx="137.8" cy="609.9" r="3.8"/><circle cx="156.1" cy="611.3" r="3.8"/><circle cx="174.4" cy="621.9" r="3.8"/><circle cx="192.7" cy="626.8" r="3.8"/><circle cx="211" cy="631.2" r="3.8"/><circle cx="229.3" cy="630.1" r="3.8"/><circle cx="247.6" cy="615.4" r="3.8"/><circle cx="265.9" cy="616.5" r="3.8"/><circle cx="284.2" cy="601" r="3.8"/><circle cx="302.5" cy="598.1" r="3.8"/><circle cx="320.8" cy="580.4" r="3.8"/></g>
<g stroke="#999" stroke-width="1.5" fill="none">
<path d="M397.4 493V710.4M387.8 710.4H680.7"/>
</g>
<g stroke="#555" stroke-width="1.1" fill="none">
<path d="M393.8 520.2H396.65"/>
<path d="M393.8 575.3H396.65"/>
<path d="M393.8 630.4H396.65"/>
<path d="M393.8 685.5H396.65"/>
<path d="M405.7 711.15v3.6"/>
<path d="M424.01 711.15v3.6"/>
<path d="M442.32 711.15v3.6"/>
<path d="M460.63 711.15v3.6"/>
<path d="M478.94 711.15v3.6"/>
<path d="M497.25 711.15v3.6"/>
<path d="M515.56 711.15v3.6"/>
<path d="M533.87 711.15v3.6"/>
<path d="M552.18 711.15v3.6"/>
<path d="M570.49 711.15v3.6"/>
<path d="M588.8 711.15v3.6"/>
<path d="M607.11 711.15v3.6"/>
<path d="M625.42 711.15v3.6"/>
<path d="M643.73 711.15v3.6"/>
<path d="M662.04 711.15v3.6"/>
</g>
<g font-size="11.6" fill="#111" text-anchor="end" stroke="#111" stroke-width="0.25">
<text x="388.7" y="524.38">0.06</text>
<text x="388.7" y="579.48">0.04</text>
<text x="388.7" y="634.58">0.02</text>
<text x="388.7" y="689.68">0.00</text>
</g>
<text transform="translate(401.8,506.3) scale(1.1,1)" font-size="23.6" fill="#000">(f)</text>
<text transform="translate(361.4,601.5) rotate(-90)" text-anchor="middle" font-size="14" fill="#111" stroke="#111" stroke-width="0.25">Under-ice:Above-ice PAR ratio</text>
<path d="M424.01 631.9 L442.32 629.2 L460.63 632.3 L478.94 631.5 L497.25 632.5 L515.56 633.9 L533.87 635.4 L552.18 621.7 L570.49 642.1 L588.8 633.9 L607.11 638 L625.42 649.3 L643.73 646.8 L662.04 645.8" fill="none" stroke="#FF0000" stroke-width="1.8" stroke-linejoin="round"/>
<path d="M424.01 616.6V647.6M420.31 616.6h7.4M420.31 647.6h7.4M442.32 615.5V642.1M438.62 615.5h7.4M438.62 642.1h7.4M460.63 624.7V648.2M456.93 624.7h7.4M456.93 648.2h7.4M478.94 623.7V647.2M475.24 623.7h7.4M475.24 647.2h7.4M497.25 625.8V648.7M493.55 625.8h7.4M493.55 648.7h7.4M515.56 626.4V649.7M511.86 626.4h7.4M511.86 649.7h7.4M533.87 628.4V650.3M530.17 628.4h7.4M530.17 650.3h7.4M552.18 609.8V632.9M548.48 609.8h7.4M548.48 632.9h7.4M570.49 634.6V649.7M566.79 634.6h7.4M566.79 649.7h7.4M588.8 624.7V643.1M585.1 624.7h7.4M585.1 643.1h7.4M607.11 630.9V645.2M603.41 630.9h7.4M603.41 645.2h7.4M625.42 643.1V655.4M621.72 643.1h7.4M621.72 655.4h7.4M643.73 640.7V652.9M640.03 640.7h7.4M640.03 652.9h7.4M662.04 639V652.3M658.34 639h7.4M658.34 652.3h7.4" fill="none" stroke="#FF0000" stroke-width="1.0"/>
<g fill="#FF0000" stroke="none" stroke-width="0"><circle cx="424.01" cy="631.9" r="3.8"/><circle cx="442.32" cy="629.2" r="3.8"/><circle cx="460.63" cy="632.3" r="3.8"/><circle cx="478.94" cy="631.5" r="3.8"/><circle cx="497.25" cy="632.5" r="3.8"/><circle cx="515.56" cy="633.9" r="3.8"/><circle cx="533.87" cy="635.4" r="3.8"/><circle cx="552.18" cy="621.7" r="3.8"/><circle cx="570.49" cy="642.1" r="3.8"/><circle cx="588.8" cy="633.9" r="3.8"/><circle cx="607.11" cy="638" r="3.8"/><circle cx="625.42" cy="649.3" r="3.8"/><circle cx="643.73" cy="646.8" r="3.8"/><circle cx="662.04" cy="645.8" r="3.8"/></g>
<path d="M424.01 624.3 L442.32 620.7 L460.63 616 L478.94 615.5 L497.25 617.6 L515.56 620.2 L533.87 623.3 L552.18 616.6 L570.49 629.2 L588.8 624.7 L607.11 629.4 L625.42 638 L643.73 639.5 L662.04 637.6" fill="none" stroke="#FF8000" stroke-width="1.8" stroke-linejoin="round"/>
<path d="M424.01 615.5V632.9M420.31 615.5h7.4M420.31 632.9h7.4M442.32 610.4V630.9M438.62 610.4h7.4M438.62 630.9h7.4M460.63 598.2V633.9M456.93 598.2h7.4M456.93 633.9h7.4M478.94 597.6V633.9M475.24 597.6h7.4M475.24 633.9h7.4M497.25 600.2V635M493.55 600.2h7.4M493.55 635h7.4M515.56 604.3V636.6M511.86 604.3h7.4M511.86 636.6h7.4M533.87 609.4V637.6M530.17 609.4h7.4M530.17 637.6h7.4M552.18 601.6V631.9M548.48 601.6h7.4M548.48 631.9h7.4M570.49 615.5V642.7M566.79 615.5h7.4M566.79 642.7h7.4M588.8 611.5V639M585.1 611.5h7.4M585.1 639h7.4M607.11 617.6V642.1M603.41 617.6h7.4M603.41 642.1h7.4M625.42 628.4V647.2M621.72 628.4h7.4M621.72 647.2h7.4M643.73 631.9V647.2M640.03 631.9h7.4M640.03 647.2h7.4M662.04 628.4V646.2M658.34 628.4h7.4M658.34 646.2h7.4" fill="none" stroke="#FF8000" stroke-width="1.0"/>
<g fill="#FF8000" stroke="none" stroke-width="0"><circle cx="424.01" cy="624.3" r="3.8"/><circle cx="442.32" cy="620.7" r="3.8"/><circle cx="460.63" cy="616" r="3.8"/><circle cx="478.94" cy="615.5" r="3.8"/><circle cx="497.25" cy="617.6" r="3.8"/><circle cx="515.56" cy="620.2" r="3.8"/><circle cx="533.87" cy="623.3" r="3.8"/><circle cx="552.18" cy="616.6" r="3.8"/><circle cx="570.49" cy="629.2" r="3.8"/><circle cx="588.8" cy="624.7" r="3.8"/><circle cx="607.11" cy="629.4" r="3.8"/><circle cx="625.42" cy="638" r="3.8"/><circle cx="643.73" cy="639.5" r="3.8"/><circle cx="662.04" cy="637.6" r="3.8"/></g>
<path d="M424.01 638.4 L442.32 639 L460.63 641.7 L478.94 641.5 L497.25 642.5 L515.56 643.7 L533.87 644.8 L552.18 638 L570.49 650.7 L588.8 645.2 L607.11 647.2 L625.42 655 L643.73 655.4 L662.04 652.3" fill="none" stroke="#FFFF00" stroke-width="2.4" stroke-linejoin="round"/>
<path d="M424.01 620.7V656.4M420.31 620.7h7.4M420.31 656.4h7.4M442.32 622.7V657.4M438.62 622.7h7.4M438.62 657.4h7.4M460.63 624.3V659.5M456.93 624.3h7.4M456.93 659.5h7.4M478.94 623.3V659.5M475.24 623.3h7.4M475.24 659.5h7.4M497.25 625.2V660.5M493.55 625.2h7.4M493.55 660.5h7.4M515.56 626.8V660.5M511.86 626.8h7.4M511.86 660.5h7.4M533.87 628.4V661.5M530.17 628.4h7.4M530.17 661.5h7.4M552.18 620.7V657M548.48 620.7h7.4M548.48 657h7.4M570.49 633.9V665.2M566.79 633.9h7.4M566.79 665.2h7.4M588.8 628.8V662.6M585.1 628.8h7.4M585.1 662.6h7.4M607.11 631.9V663.6M603.41 631.9h7.4M603.41 663.6h7.4M625.42 640.1V667.7M621.72 640.1h7.4M621.72 667.7h7.4M643.73 643.1V668.1M640.03 643.1h7.4M640.03 668.1h7.4M662.04 638V668.1M658.34 638h7.4M658.34 668.1h7.4" fill="none" stroke="#111" stroke-width="1.0"/>
<g fill="#FFFF00" stroke="#111" stroke-width="1.1"><circle cx="424.01" cy="638.4" r="3.3"/><circle cx="442.32" cy="639" r="3.3"/><circle cx="460.63" cy="641.7" r="3.3"/><circle cx="478.94" cy="641.5" r="3.3"/><circle cx="497.25" cy="642.5" r="3.3"/><circle cx="515.56" cy="643.7" r="3.3"/><circle cx="533.87" cy="644.8" r="3.3"/><circle cx="552.18" cy="638" r="3.3"/><circle cx="570.49" cy="650.7" r="3.3"/><circle cx="588.8" cy="645.2" r="3.3"/><circle cx="607.11" cy="647.2" r="3.3"/><circle cx="625.42" cy="655" r="3.3"/><circle cx="643.73" cy="655.4" r="3.3"/><circle cx="662.04" cy="652.3" r="3.3"/></g>
<path d="M424.01 640.7 L442.32 640.1 L460.63 642.7 L478.94 642.7 L497.25 643.1 L515.56 644.2 L533.87 645.2 L552.18 636.6 L570.49 650.3 L588.8 643.5 L607.11 647.2 L625.42 655 L643.73 654.4 L662.04 651.3" fill="none" stroke="#00C000" stroke-width="1.8" stroke-linejoin="round"/>
<path d="M424.01 621.7V659.9M420.31 621.7h7.4M420.31 659.9h7.4M442.32 623.7V657.4M438.62 623.7h7.4M438.62 657.4h7.4M460.63 625.8V659.5M456.93 625.8h7.4M456.93 659.5h7.4M478.94 625.8V659.5M475.24 625.8h7.4M475.24 659.5h7.4M497.25 626.4V659.9M493.55 626.4h7.4M493.55 659.9h7.4M515.56 626.8V660.5M511.86 626.8h7.4M511.86 660.5h7.4M533.87 628.8V661.5M530.17 628.8h7.4M530.17 661.5h7.4M552.18 620.7V653.4M548.48 620.7h7.4M548.48 653.4h7.4M570.49 633.9V664.6M566.79 633.9h7.4M566.79 664.6h7.4M588.8 628.8V658.5M585.1 628.8h7.4M585.1 658.5h7.4M607.11 632.5V660.5M603.41 632.5h7.4M603.41 660.5h7.4M625.42 642.1V667.3M621.72 642.1h7.4M621.72 667.3h7.4M643.73 643.1V665.2M640.03 643.1h7.4M640.03 665.2h7.4M662.04 639V663.2M658.34 639h7.4M658.34 663.2h7.4" fill="none" stroke="#00C000" stroke-width="1.0"/>
<g fill="#00C000" stroke="none" stroke-width="0"><circle cx="424.01" cy="640.7" r="3.8"/><circle cx="442.32" cy="640.1" r="3.8"/><circle cx="460.63" cy="642.7" r="3.8"/><circle cx="478.94" cy="642.7" r="3.8"/><circle cx="497.25" cy="643.1" r="3.8"/><circle cx="515.56" cy="644.2" r="3.8"/><circle cx="533.87" cy="645.2" r="3.8"/><circle cx="552.18" cy="636.6" r="3.8"/><circle cx="570.49" cy="650.3" r="3.8"/><circle cx="588.8" cy="643.5" r="3.8"/><circle cx="607.11" cy="647.2" r="3.8"/><circle cx="625.42" cy="655" r="3.8"/><circle cx="643.73" cy="654.4" r="3.8"/><circle cx="662.04" cy="651.3" r="3.8"/></g>
<g stroke="#555" stroke-width="1.1" fill="none">
<path d="M53.6 735.4V937.3M46 937.3H341.6"/>
</g>
<g stroke="#555" stroke-width="1.1" fill="none">
<path d="M50 760H53.05"/>
<path d="M50 790H53.05"/>
<path d="M50 820H53.05"/>
<path d="M50 850.1H53.05"/>
<path d="M50 880.3H53.05"/>
<path d="M50 910.4H53.05"/>
<path d="M64.6 937.85v3.6"/>
<path d="M83.07 937.85v3.6"/>
<path d="M101.54 937.85v3.6"/>
<path d="M120.01 937.85v3.6"/>
<path d="M138.48 937.85v3.6"/>
<path d="M156.95 937.85v3.6"/>
<path d="M175.42 937.85v3.6"/>
<path d="M193.89 937.85v3.6"/>
<path d="M212.36 937.85v3.6"/>
<path d="M230.83 937.85v3.6"/>
<path d="M249.3 937.85v3.6"/>
<path d="M267.77 937.85v3.6"/>
<path d="M286.24 937.85v3.6"/>
<path d="M304.71 937.85v3.6"/>
<path d="M323.18 937.85v3.6"/>
</g>
<g font-size="11.6" fill="#111" text-anchor="end" stroke="#111" stroke-width="0.25">
<text x="44.6" y="764.18">2.5</text>
<text x="44.6" y="794.18">2.0</text>
<text x="44.6" y="824.18">1.5</text>
<text x="44.6" y="854.28">1.0</text>
<text x="44.6" y="884.48">0.5</text>
<text x="44.6" y="914.58">0.0</text>
</g>
<text transform="translate(63.4,744.9) scale(1.1,1)" font-size="23.6" fill="#000">(g)</text>
<text transform="translate(16.05,835.2) rotate(-90)" text-anchor="middle" font-size="13" fill="#111" stroke="#111" stroke-width="0.25">Ambient nutrients (µmol L<tspan baseline-shift="super" font-size="9">-1</tspan>)</text>
<path d="M64.6 791.9 L83.07 765.2 L101.54 798.3 L120.01 784.5 L138.48 802.5 L156.95 784.5 L175.42 791.7 L193.89 780.4 L212.36 808.3 L230.83 787.7 L249.3 789.3 L267.77 794.3 L286.24 806.3 L304.71 803.5 L323.18 815.1" fill="none" stroke="#C000C0" stroke-width="1.8" stroke-linejoin="round"/>
<path d="M64.6 777.1V806.5M60.9 777.1h7.4M60.9 806.5h7.4M83.07 758.5V771.2M79.37 758.5h7.4M79.37 771.2h7.4M101.54 789.2V807.2M97.84 789.2h7.4M97.84 807.2h7.4M138.48 792.3V812.4M134.78 792.3h7.4M134.78 812.4h7.4M175.42 783.4V799.1M171.72 783.4h7.4M171.72 799.1h7.4M193.89 773.5V786.5M190.19 773.5h7.4M190.19 786.5h7.4M212.36 802.4V813.4M208.66 802.4h7.4M208.66 813.4h7.4M249.3 783.1V795.2M245.6 783.1h7.4M245.6 795.2h7.4M267.77 788.6V800.2M264.07 788.6h7.4M264.07 800.2h7.4M286.24 798.7V814.4M282.54 798.7h7.4M282.54 814.4h7.4M304.71 798.7V808.3M301.01 798.7h7.4M301.01 808.3h7.4" fill="none" stroke="#CC44CC" stroke-width="1.0"/>
<g fill="#C000C0" stroke="none" stroke-width="0"><rect x="62" y="789.3" width="5.2" height="5.2"/><rect x="80.47" y="762.6" width="5.2" height="5.2"/><rect x="98.94" y="795.7" width="5.2" height="5.2"/><rect x="117.41" y="781.9" width="5.2" height="5.2"/><rect x="135.88" y="799.9" width="5.2" height="5.2"/><rect x="154.35" y="781.9" width="5.2" height="5.2"/><rect x="172.82" y="789.1" width="5.2" height="5.2"/><rect x="191.29" y="777.8" width="5.2" height="5.2"/><rect x="209.76" y="805.7" width="5.2" height="5.2"/><rect x="228.23" y="785.1" width="5.2" height="5.2"/><rect x="246.7" y="786.7" width="5.2" height="5.2"/><rect x="265.17" y="791.7" width="5.2" height="5.2"/><rect x="283.64" y="803.7" width="5.2" height="5.2"/><rect x="302.11" y="800.9" width="5.2" height="5.2"/><rect x="320.58" y="812.5" width="5.2" height="5.2"/></g>
<path d="M64.6 896.1 L83.07 897.5 L101.54 889.7 L120.01 901.8 L138.48 887 L156.95 895 L175.42 903.9 L193.89 890.8 L212.36 892.8 L230.83 893.9 L249.3 891.1 L267.77 885.6 L286.24 851.2 L304.71 874.7 L323.18 860.4" fill="none" stroke="#3399EE" stroke-width="1.5" stroke-linejoin="round"/>
<path d="M64.6 893.5V898.5M60.9 893.5h7.4M60.9 898.5h7.4M83.07 895V900M79.37 895h7.4M79.37 900h7.4M101.54 883.4V896.5M97.84 883.4h7.4M97.84 896.5h7.4M138.48 883.8V889.7M134.78 883.8h7.4M134.78 889.7h7.4M156.95 888.7V902M153.25 888.7h7.4M153.25 902h7.4M175.42 902V905M171.72 902h7.4M171.72 905h7.4M212.36 887.8V898.1M208.66 887.8h7.4M208.66 898.1h7.4M230.83 888.5V900.3M227.13 888.5h7.4M227.13 900.3h7.4M249.3 887.1V895M245.6 887.1h7.4M245.6 895h7.4M267.77 877.5V893.9M264.07 877.5h7.4M264.07 893.9h7.4M286.24 830.2V871.4M282.54 830.2h7.4M282.54 871.4h7.4M304.71 870.9V879M301.01 870.9h7.4M301.01 879h7.4M323.18 846.6V875.3M319.48 846.6h7.4M319.48 875.3h7.4" fill="none" stroke="#3399EE" stroke-width="1.0"/>
<g fill="#fff" stroke="#3399EE" stroke-width="1.0"><circle cx="64.6" cy="896.1" r="2.4"/><circle cx="83.07" cy="897.5" r="2.4"/><circle cx="101.54" cy="889.7" r="2.4"/><circle cx="120.01" cy="901.8" r="2.4"/><circle cx="138.48" cy="887" r="2.4"/><circle cx="156.95" cy="895" r="2.4"/><circle cx="175.42" cy="903.9" r="2.4"/><circle cx="193.89" cy="890.8" r="2.4"/><circle cx="212.36" cy="892.8" r="2.4"/><circle cx="230.83" cy="893.9" r="2.4"/><circle cx="249.3" cy="891.1" r="2.4"/><circle cx="267.77" cy="885.6" r="2.4"/><circle cx="286.24" cy="851.2" r="2.4"/><circle cx="304.71" cy="874.7" r="2.4"/><circle cx="323.18" cy="860.4" r="2.4"/></g>
<g stroke="#999" stroke-width="1.5" fill="none">
<path d="M397.2 739V938.8M387.7 938.8H683.4"/>
</g>
<g stroke="#555" stroke-width="1.1" fill="none">
<path d="M393.6 772H396.45"/>
<path d="M393.6 805.5H396.45"/>
<path d="M393.6 838.8H396.45"/>
<path d="M393.6 872.3H396.45"/>
<path d="M393.6 906H396.45"/>
<path d="M406 939.55v3.6"/>
<path d="M424.48 939.55v3.6"/>
<path d="M442.96 939.55v3.6"/>
<path d="M461.44 939.55v3.6"/>
<path d="M479.92 939.55v3.6"/>
<path d="M498.4 939.55v3.6"/>
<path d="M516.88 939.55v3.6"/>
<path d="M535.36 939.55v3.6"/>
<path d="M553.84 939.55v3.6"/>
<path d="M572.32 939.55v3.6"/>
<path d="M590.8 939.55v3.6"/>
<path d="M609.28 939.55v3.6"/>
<path d="M627.76 939.55v3.6"/>
<path d="M646.24 939.55v3.6"/>
<path d="M664.72 939.55v3.6"/>
</g>
<g font-size="11.6" fill="#111" text-anchor="end" stroke="#111" stroke-width="0.25">
<text x="389" y="776.18">40</text>
<text x="389" y="809.68">35</text>
<text x="389" y="842.98">30</text>
<text x="389" y="876.48">25</text>
<text x="389" y="910.18">20</text>
</g>
<text transform="translate(401.8,747.7) scale(1.1,1)" font-size="23.6" fill="#000">(h)</text>
<text transform="translate(363.15,830.1) rotate(-90)" text-anchor="middle" font-size="13" fill="#111" stroke="#111" stroke-width="0.25">Ambient nutrients (µmol L<tspan baseline-shift="super" font-size="9">-1</tspan>)</text>
<path d="M406 840.4 L424.48 796 L442.96 848.9 L461.44 825.6 L479.92 862.7 L498.4 825.6 L516.88 841.5 L535.36 839.8 L553.84 865.1 L572.32 834.1 L590.8 853.8 L609.28 843.1 L627.76 865.1 L646.24 874.8 L664.72 877.5" fill="none" stroke="#1177EE" stroke-width="2.4" stroke-linejoin="round"/>
<path d="M402.3 817.6h7.4M402.3 866.5h7.4M420.78 783.9h7.4M420.78 810.8h7.4M439.26 835.8h7.4M439.26 864.1h7.4M457.74 823.5h7.4M457.74 828h7.4M476.22 844.2h7.4M476.22 882.8h7.4M494.7 824h7.4M494.7 828h7.4M531.66 821.2h7.4M531.66 859.7h7.4M550.14 854.5h7.4M550.14 873.7h7.4M568.62 827.8h7.4M568.62 842h7.4M587.1 842.5h7.4M587.1 865.8h7.4M605.58 832.5h7.4M605.58 856.7h7.4M624.06 851.5h7.4M624.06 878.2h7.4M642.54 866.5h7.4M642.54 885h7.4M661.02 871.4h7.4M661.02 885h7.4" fill="none" stroke="#1177EE" stroke-width="1.0"/>
<g fill="#1177EE" stroke="none" stroke-width="0"><rect x="403.5" y="837.9" width="5" height="5"/><rect x="421.98" y="793.5" width="5" height="5"/><rect x="440.46" y="846.4" width="5" height="5"/><rect x="458.94" y="823.1" width="5" height="5"/><rect x="477.42" y="860.2" width="5" height="5"/><rect x="495.9" y="823.1" width="5" height="5"/><rect x="514.38" y="839" width="5" height="5"/><rect x="532.86" y="837.3" width="5" height="5"/><rect x="551.34" y="862.6" width="5" height="5"/><rect x="569.82" y="831.6" width="5" height="5"/><rect x="588.3" y="851.3" width="5" height="5"/><rect x="606.78" y="840.6" width="5" height="5"/><rect x="625.26" y="862.6" width="5" height="5"/><rect x="643.74" y="872.3" width="5" height="5"/><rect x="662.22" y="875" width="5" height="5"/></g>
<path d="M406 843.2 L424.48 797.7 L442.96 852.1 L461.44 827.3 L479.92 865.8 L498.4 827.7 L516.88 841.5 L535.36 841.3 L553.84 865.8 L572.32 834.5 L590.8 856 L609.28 846.5 L627.76 871 L646.24 879.4 L664.72 883.2" fill="none" stroke="#444" stroke-width="0.9" stroke-linejoin="round"/>
<path d="M406 817.6V868.4M402.3 817.6h7.4M402.3 868.4h7.4M424.48 783.9V811.4M420.78 783.9h7.4M420.78 811.4h7.4M442.96 836.6V866.9M439.26 836.6h7.4M439.26 866.9h7.4M461.44 825V829.5M457.74 825h7.4M457.74 829.5h7.4M479.92 845.7V885.5M476.22 845.7h7.4M476.22 885.5h7.4M498.4 826V829.5M494.7 826h7.4M494.7 829.5h7.4M516.88 826.3V857M513.18 826.3h7.4M513.18 857h7.4M535.36 821V860.8M531.66 821h7.4M531.66 860.8h7.4M553.84 855.5V876M550.14 855.5h7.4M550.14 876h7.4M572.32 827.8V842M568.62 827.8h7.4M568.62 842h7.4M590.8 844.3V868M587.1 844.3h7.4M587.1 868h7.4M609.28 835.9V857.2M605.58 835.9h7.4M605.58 857.2h7.4M627.76 855.6V886.6M624.06 855.6h7.4M624.06 886.6h7.4M646.24 870.3V888M642.54 870.3h7.4M642.54 888h7.4M664.72 877.1V888M661.02 877.1h7.4M661.02 888h7.4" fill="none" stroke="#5a5a5a" stroke-width="1.0"/>
<g fill="#fff" stroke="#333" stroke-width="0.9"><circle cx="406" cy="843.2" r="2.8"/><circle cx="424.48" cy="797.7" r="2.8"/><circle cx="442.96" cy="852.1" r="2.8"/><circle cx="461.44" cy="827.3" r="2.8"/><circle cx="479.92" cy="865.8" r="2.8"/><circle cx="498.4" cy="827.7" r="2.8"/><circle cx="516.88" cy="841.5" r="2.8"/><circle cx="535.36" cy="841.3" r="2.8"/><circle cx="553.84" cy="865.8" r="2.8"/><circle cx="572.32" cy="834.5" r="2.8"/><circle cx="590.8" cy="856" r="2.8"/><circle cx="609.28" cy="846.5" r="2.8"/><circle cx="627.76" cy="871" r="2.8"/><circle cx="646.24" cy="879.4" r="2.8"/><circle cx="664.72" cy="883.2" r="2.8"/></g>
<g font-size="9.2" fill="#111">
<path d="M601 145.9H624" stroke="#FF0000" stroke-width="1.7"/>
<circle cx="612.4" cy="145.9" r="3.8" fill="#FF0000"/>
<text x="628" y="149.2">pH 7.61</text>
<path d="M601 156.3H624" stroke="#FF8000" stroke-width="1.7"/>
<circle cx="612.4" cy="156.3" r="3.8" fill="#FF8000"/>
<text x="628" y="159.6">pH 7.75</text>
<path d="M601 166.7H624" stroke="#FFFF00" stroke-width="2.2"/>
<circle cx="612.4" cy="166.7" r="3.4" fill="#FFFF00" stroke="#111" stroke-width="1.1"/>
<text x="628" y="170">pH 7.86</text>
<path d="M601 177.1H624" stroke="#00C000" stroke-width="1.7"/>
<circle cx="612.4" cy="177.1" r="3.8" fill="#00C000"/>
<text x="628" y="180.4">pH 7.99</text>
</g>
<g font-size="8.4" fill="#111">
<path d="M261 753.3H281.7" stroke="#C000C0" stroke-width="1.6"/><rect x="268.8" y="750.8" width="5" height="5" fill="#C000C0"/>
<text x="286.5" y="756.3">DRP</text>
<path d="M261 763.1H281.7" stroke="#3399EE" stroke-width="1.6"/><circle cx="271.2" cy="763.1" r="2.5" fill="#fff" stroke="#3399EE" stroke-width="1"/>
<text x="286.5" y="766.1">NH4+</text>
<path d="M599.8 751.7H620.8" stroke="#1177EE" stroke-width="2.2"/><rect x="607.9" y="749.2" width="5" height="5" fill="#1177EE"/>
<text x="625" y="754.9">DIN</text>
<path d="M599.8 761.3H620.8" stroke="#444" stroke-width="0.9"/><circle cx="610.2" cy="761.3" r="2.8" fill="#fff" stroke="#333" stroke-width="0.9"/>
<text x="625" y="764.5">NO3-</text>
</g>
<g font-size="13" fill="#111" text-anchor="middle" stroke="#111" stroke-width="0.25">
<text x="64.6" y="957.3">0</text>
<text x="83.07" y="957.3">1</text>
<text x="101.54" y="957.3">2</text>
<text x="120.01" y="957.3">3</text>
<text x="138.48" y="957.3">4</text>
<text x="156.95" y="957.3">5</text>
<text x="175.42" y="957.3">6</text>
<text x="193.89" y="957.3">7</text>
<text x="212.36" y="957.3">8</text>
<text x="230.83" y="957.3">9</text>
<text x="249.3" y="957.3">10</text>
<text x="267.77" y="957.3">11</text>
<text x="286.24" y="957.3">12</text>
<text x="304.71" y="957.3">13</text>
<text x="323.18" y="957.3">14</text>
</g>
<text x="196.6" y="975.4" font-size="14.4" fill="#111" stroke="#111" stroke-width="0.25" text-anchor="middle">Day of Experiment</text>
<g font-size="13" fill="#111" text-anchor="middle" stroke="#111" stroke-width="0.25">
<text x="406" y="957.3">0</text>
<text x="424.48" y="957.3">1</text>
<text x="442.96" y="957.3">2</text>
<text x="461.44" y="957.3">3</text>
<text x="479.92" y="957.3">4</text>
<text x="498.4" y="957.3">5</text>
<text x="516.88" y="957.3">6</text>
<text x="535.36" y="957.3">7</text>
<text x="553.84" y="957.3">8</text>
<text x="572.32" y="957.3">9</text>
<text x="590.8" y="957.3">10</text>
<text x="609.28" y="957.3">11</text>
<text x="627.76" y="957.3">12</text>
<text x="646.24" y="957.3">13</text>
<text x="664.72" y="957.3">14</text>
</g>
<text x="538" y="975.4" font-size="14.4" fill="#111" stroke="#111" stroke-width="0.25" text-anchor="middle">Day of Experiment</text>
</svg></body></html>
